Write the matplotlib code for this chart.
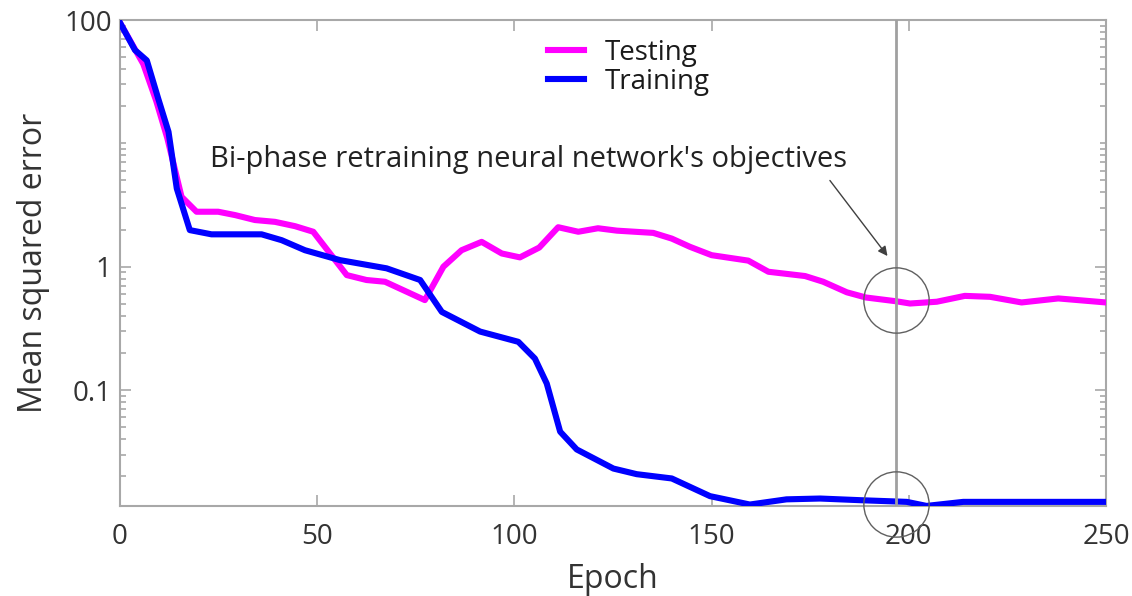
import matplotlib
matplotlib.use("Agg")
import matplotlib.pyplot as plt
from matplotlib.ticker import FixedLocator, LogLocator, NullFormatter, FixedFormatter

plt.rcParams['font.family'] = ['Open Sans', 'DejaVu Sans']

# Training error per epoch
train_epoch = [0, 3.8, 6.8, 9.7, 12.3, 14.4, 17.7, 23.2, 35.9, 41.0, 46.9, 55.8,
               67.6, 76.1, 81.6, 91.3, 101.0, 105.2, 108.2, 111.6, 115.8, 125.1,
               131.0, 139.9, 149.6, 159.7, 169.0, 177.5, 187.6, 199.5, 204.5,
               213.8, 250.0]
train_mse = [95, 57, 47, 23, 12.4, 4.3, 1.98, 1.83, 1.83, 1.64, 1.36, 1.13,
             0.97, 0.78, 0.43, 0.298, 0.246, 0.18, 0.113, 0.046, 0.033, 0.0231,
             0.0208, 0.0192, 0.0138, 0.0118, 0.013, 0.0132, 0.0128, 0.0124,
             0.0115, 0.0124, 0.0124]

# Testing error per epoch
test_epoch = [0, 5.9, 9.2, 12.0, 15.6, 19.4, 24.9, 29.2, 34.2, 39.3, 44.4, 49.0,
              57.5, 62.5, 67.2, 77.3, 82.0, 86.6, 91.7, 96.8, 101.4, 106.3,
              111.1, 116.2, 121.2, 126.0, 135.2, 139.9, 144.5, 150.0, 159.3,
              164.4, 173.7, 178.3, 184.3, 189.1, 196.9, 200.3, 207.1, 214.2,
              220.6, 228.6, 237.9, 250.0]
test_mse = [95, 44, 22, 11, 3.69, 2.79, 2.79, 2.62, 2.39, 2.31, 2.13, 1.92,
            0.855, 0.78, 0.755, 0.536, 1.0, 1.36, 1.59, 1.28, 1.19, 1.43,
            2.09, 1.92, 2.05, 1.96, 1.88, 1.69, 1.45, 1.24, 1.12,
            0.91, 0.84, 0.755, 0.62, 0.563, 0.524, 0.503, 0.52, 0.58,
            0.57, 0.513, 0.553, 0.513]

x_ticks = [0, 50, 100, 150, 200, 250]
y_ticks = [0.1, 1, 100]
y_tick_labels = ['0.1', '1', '100']

# Selected epoch and the marked errors there
chosen_epoch = 196.7
chosen_test_mse = 0.536
chosen_train_mse = 0.0119
note_text = "Bi-phase retraining neural network's objectives"

spine_grey = '#a8a8a8'
text_dark = '#333333'

fig = plt.figure(figsize=(11.32, 5.96), dpi=100)
ax = fig.add_axes([120 / 1132, 1 - 506 / 596, (1106 - 120) / 1132, (506 - 20) / 596])

ax.plot(test_epoch, test_mse, color='#ff00ff', lw=4.4, label='Testing',
        solid_joinstyle='round', zorder=3)
ax.plot(train_epoch, train_mse, color='#0000ff', lw=4.4, label='Training',
        solid_joinstyle='round', zorder=4)

ax.set_yscale('log')
ax.set_xlim(0, 250)
ax.set_ylim(10 ** -1.94, 100)

ax.xaxis.set_major_locator(FixedLocator(x_ticks))
ax.yaxis.set_major_locator(FixedLocator(y_ticks))
ax.yaxis.set_major_formatter(FixedFormatter(y_tick_labels))
ax.yaxis.set_minor_locator(LogLocator(base=10, subs=range(1, 10), numticks=20))
ax.yaxis.set_minor_formatter(NullFormatter())

ax.tick_params(which='both', direction='in', color=spine_grey, width=1.2,
               top=True, right=True, labelsize=20, labelcolor=text_dark)
ax.tick_params(which='major', length=8)
ax.tick_params(which='minor', length=4.5)
ax.tick_params(axis='x', pad=12)
ax.tick_params(axis='y', pad=6)
for s in ax.spines.values():
    s.set_color(spine_grey)
    s.set_linewidth(1.5)

ax.set_xlabel('Epoch', fontsize=23, color=text_dark, labelpad=9)
ax.set_ylabel('Mean squared error', fontsize=23, color=text_dark, labelpad=10)

# Marker line and circles at the selected epoch
ax.axvline(chosen_epoch, color='#a0a0a0', lw=2, zorder=5)
ax.plot([chosen_epoch], [chosen_test_mse], marker='o', ms=47, mfc='none',
        mec='#606060', mew=1, clip_on=False, zorder=6)
ax.plot([chosen_epoch], [chosen_train_mse], marker='o', ms=47, mfc='none',
        mec='#606060', mew=1, clip_on=False, zorder=6)

ax.annotate('', xy=(194.6, 1.22), xytext=(180.0, 5.0),
            arrowprops=dict(arrowstyle='-|>', color='#404040', lw=1,
                            mutation_scale=14, shrinkA=0, shrinkB=0))
ax.text(22.8, 6.46, note_text, fontsize=21, color='#222222', va='baseline', ha='left')

leg = ax.legend(loc='upper left', bbox_to_anchor=(0.409, 1.013), frameon=False,
                fontsize=20, handlelength=1.3, handletextpad=0.75, labelspacing=0.05)
for t in leg.get_texts():
    t.set_color('#1a1a1a')

fig.savefig('out.png', dpi=100)
